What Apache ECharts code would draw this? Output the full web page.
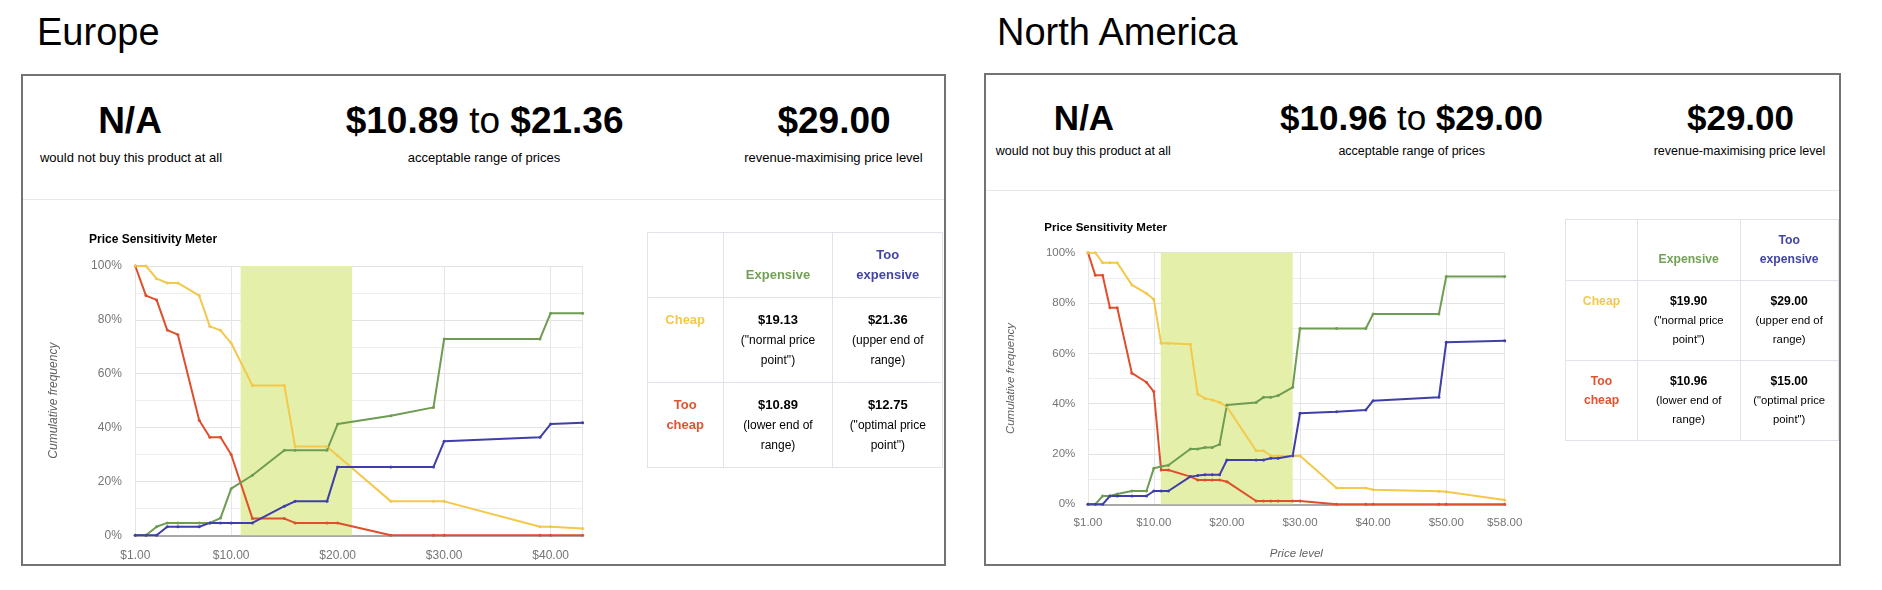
<!DOCTYPE html>
<html>
<head>
  <meta charset="UTF-8">
  <script src="https://cdn.jsdelivr.net/npm/echarts@6/dist/echarts.min.js"></script>
  <style>
    html, body { margin: 0; padding: 0; background: #fff; }
    body { width: 1882px; height: 590px; position: relative; overflow: hidden;
           font-family: "Liberation Sans", Arial, sans-serif; color: #000; }
    #chart { position: absolute; left: 0; top: 0; width: 1882px; height: 590px; }
    .abs { position: absolute; white-space: nowrap; line-height: 1; }
    .box { position: absolute; border: 2px solid #737373; box-sizing: border-box; }
    .sep { position: absolute; height: 1px; background: #e8e8e8; }
    .kpi { position: absolute; transform: translateX(-50%); white-space: nowrap; line-height: 1; text-align: center; }
    .kpi .to { font-weight: normal; }
    table.psm { position: absolute; border-collapse: collapse; table-layout: fixed; text-align: center; }
    table.psm td { border: 1px solid #e2e3ea; vertical-align: top; padding: 0 2px; }
    table.psm tr.head td { vertical-align: bottom; }
    table.psm .lab { font-weight: bold; }
    table.psm .val { font-weight: bold; color: #000; }
    .cheap { color: #f3c84b; }
    .toocheap { color: #e1532f; }
    .exp { color: #72a155; }
    .tooexp { color: #4344a8; }
    #euTable td { padding-top: 12px; padding-bottom: 12px; line-height: 20px; font-size: 12px; }
    #euTable .lab, #euTable .val { font-size: 13px; }
    #naTable td { padding-top: 11px; padding-bottom: 11px; line-height: 19px; font-size: 11.3px; }
    #naTable .lab, #naTable .val { font-size: 12.2px; }
  </style>
</head>
<body>
  <div class="abs" style="left:37px; top:12.8px; font-size:38px;">Europe</div>
  <div class="abs" style="left:997px; top:12.8px; font-size:38px;">North America</div>

  <div class="box" style="left:21px; top:74px; width:925px; height:492px;"></div>
  <div class="box" style="left:984px; top:72.5px; width:857px; height:493px;"></div>
  <div class="sep" style="left:23px; top:199px; width:921px;"></div>
  <div class="sep" style="left:986px; top:190px; width:853px;"></div>

  <!-- Europe figures -->
  <div class="kpi" style="left:130px; top:101.7px; font-size:37px; font-weight:bold;">N/A</div>
  <div class="kpi" style="left:484.6px; top:101.7px; font-size:37px; font-weight:bold;">$10.89<span class="to"> to </span>$21.36</div>
  <div class="kpi" style="left:834px; top:101.7px; font-size:37px; font-weight:bold;">$29.00</div>
  <div class="kpi" style="left:131px; top:151.3px; font-size:13px;">would not buy this product at all</div>
  <div class="kpi" style="left:484px; top:151.3px; font-size:13px;">acceptable range of prices</div>
  <div class="kpi" style="left:833.5px; top:151.3px; font-size:13px;">revenue-maximising price level</div>

  <!-- North America figures -->
  <div class="kpi" style="left:1084px; top:99.7px; font-size:35px; font-weight:bold;">N/A</div>
  <div class="kpi" style="left:1411.5px; top:99.7px; font-size:35px; font-weight:bold;">$10.96<span class="to"> to </span>$29.00</div>
  <div class="kpi" style="left:1740.5px; top:99.7px; font-size:35px; font-weight:bold;">$29.00</div>
  <div class="kpi" style="left:1083.3px; top:144.9px; font-size:12.5px;">would not buy this product at all</div>
  <div class="kpi" style="left:1411.7px; top:144.9px; font-size:12.5px;">acceptable range of prices</div>
  <div class="kpi" style="left:1739.5px; top:144.9px; font-size:12.5px;">revenue-maximising price level</div>

  <div id="chart"></div>

  <table class="psm" id="euTable" style="left:646.7px; top:231.7px; width:295.6px;">
    <col style="width:76px"><col style="width:109.6px"><col style="width:110px">
    <tr class="head">
      <td></td>
      <td><span class="lab exp">Expensive</span></td>
      <td><span class="lab tooexp">Too<br>expensive</span></td>
    </tr>
    <tr>
      <td><span class="lab cheap">Cheap</span></td>
      <td><span class="val">$19.13</span><br>("normal price<br>point")</td>
      <td><span class="val">$21.36</span><br>(upper end of<br>range)</td>
    </tr>
    <tr>
      <td><span class="lab toocheap">Too<br>cheap</span></td>
      <td><span class="val">$10.89</span><br>(lower end of<br>range)</td>
      <td><span class="val">$12.75</span><br>("optimal price<br>point")</td>
    </tr>
  </table>

  <table class="psm" id="naTable" style="left:1565.3px; top:219.3px; width:272.4px;">
    <col style="width:71.4px"><col style="width:103px"><col style="width:98px">
    <tr class="head">
      <td></td>
      <td><span class="lab exp">Expensive</span></td>
      <td><span class="lab tooexp">Too<br>expensive</span></td>
    </tr>
    <tr>
      <td><span class="lab cheap">Cheap</span></td>
      <td><span class="val">$19.90</span><br>("normal price<br>point")</td>
      <td><span class="val">$29.00</span><br>(upper end of<br>range)</td>
    </tr>
    <tr>
      <td><span class="lab toocheap">Too<br>cheap</span></td>
      <td><span class="val">$10.96</span><br>(lower end of<br>range)</td>
      <td><span class="val">$15.00</span><br>("optimal price<br>point")</td>
    </tr>
  </table>

  <script>
    // Europe: price levels and cumulative frequencies (%)
    var euPrices       = [1, 2, 3, 4, 5, 7, 8, 9, 10, 12, 15, 16, 19, 20, 25, 29, 30, 39, 40, 43];
    var euTooCheap     = [100, 89.0, 87.4, 76.2, 74.5, 42.7, 36.4, 36.4, 30.0, 6.2, 6.2, 4.6, 4.6, 4.6, 0, 0, 0, 0, 0, 0];
    var euCheap        = [100, 100, 95.3, 93.7, 93.7, 89.0, 77.6, 76.1, 71.4, 55.6, 55.6, 33.0, 33.0, 29.5, 12.6, 12.6, 12.6, 3.2, 3.2, 2.5];
    var euExpensive    = [0, 0, 3.2, 4.6, 4.6, 4.6, 4.6, 6.4, 17.3, 22.3, 31.6, 31.6, 31.6, 41.3, 44.4, 47.5, 72.9, 72.9, 82.5, 82.5];
    var euTooExpensive = [0, 0, 0, 3.2, 3.2, 3.2, 4.6, 4.6, 4.6, 4.6, 10.8, 12.6, 12.6, 25.4, 25.4, 25.4, 34.9, 36.4, 41.3, 41.8];
    var euRange        = [10.89, 21.36];

    // North America
    var naPrices       = [1, 2, 3, 4, 5, 7, 9, 10, 11, 12, 15, 16, 17, 18, 19, 20, 24, 25, 26, 27, 29, 30, 35, 39, 40, 49, 50, 58];
    var naTooCheap     = [100, 91.0, 91.0, 78.1, 78.1, 52.1, 48.5, 44.8, 13.6, 13.6, 11.0, 9.7, 9.7, 9.7, 9.7, 9.0, 1.3, 1.3, 1.3, 1.3, 1.3, 1.3, 0, 0, 0, 0, 0, 0];
    var naCheap        = [100, 100, 96.0, 96.0, 96.0, 87.2, 83.8, 81.5, 64.0, 64.0, 63.6, 43.8, 42.1, 41.5, 40.5, 38.8, 21.3, 21.3, 19.3, 19.3, 19.2, 19.3, 6.5, 6.5, 5.8, 5.2, 5.0, 1.7];
    var naExpensive    = [0, 0, 3.3, 3.3, 4.1, 5.3, 5.3, 14.3, 15.0, 15.5, 22.0, 22.0, 22.6, 22.6, 23.8, 39.5, 40.5, 42.5, 42.5, 43.2, 46.5, 69.9, 69.9, 69.9, 75.6, 75.6, 90.5, 90.5];
    var naTooExpensive = [0, 0, 0, 3.3, 3.3, 3.3, 3.3, 5.3, 5.3, 5.3, 11.0, 11.4, 11.7, 11.7, 11.7, 17.6, 17.6, 17.6, 18.3, 18.3, 19.3, 36.2, 36.8, 37.5, 41.2, 42.5, 64.4, 65.0];
    var naRange        = [10.96, 29.00];

    var yTicks = [0, 20, 40, 60, 80, 100];

    var colors = { tooCheap: '#df4f2c', cheap: '#f3c84b', expensive: '#6e9c52', tooExpensive: '#3e3fa8' };
    var fontFam = '"Liberation Sans", Arial, sans-serif';

    function pairs(xs, ys) {
      return xs.map(function (x, i) { return [x, ys[i]]; });
    }

    function line(name, color, xs, ys, idx, range) {
      var s = {
        name: name,
        type: 'line',
        xAxisIndex: idx,
        yAxisIndex: idx,
        data: pairs(xs, ys),
        symbol: 'circle',
        symbolSize: 3,
        lineStyle: { color: color, width: 2 },
        itemStyle: { color: color },
        z: 3
      };
      if (range) {
        s.markArea = {
          silent: true,
          z: 1,
          itemStyle: { color: '#e4f0aa' },
          data: [[{ xAxis: range[0] }, { xAxis: range[1] }]]
        };
      }
      return s;
    }

    function xAxis(idx, max, fs, margin, showMax) {
      return {
        gridIndex: idx,
        type: 'value',
        min: 1,
        max: max,
        splitNumber: 5,
        axisLine: { show: true, onZero: false, lineStyle: { color: '#a8a8a8', width: 2 } },
        axisTick: { show: false },
        axisLabel: {
          color: '#757575', fontSize: fs, fontFamily: fontFam, margin: margin,
          showMinLabel: true, showMaxLabel: showMax,
          formatter: function (v) { return '$' + v.toFixed(2); }
        },
        splitLine: { show: true, lineStyle: { color: '#e6e6e6', width: 1 } }
      };
    }

    function yAxis(idx, fs, margin, gap) {
      return {
        gridIndex: idx,
        type: 'value',
        min: yTicks[0],
        max: yTicks[yTicks.length - 1],
        interval: 20,
        name: 'Cumulative frequency',
        nameLocation: 'middle',
        nameRotate: 90,
        nameGap: gap,
        nameTextStyle: { color: '#616161', fontStyle: 'italic', fontSize: fs, fontFamily: fontFam },
        axisLine: { show: false },
        axisTick: { show: false },
        axisLabel: { color: '#757575', fontSize: fs, fontFamily: fontFam, margin: margin, formatter: '{value}%' },
        splitLine: { lineStyle: { color: '#e2e2e2' } },
        minorTick: { show: false, splitNumber: 2 },
        minorSplitLine: { show: true, lineStyle: { color: '#efefef' } }
      };
    }

    var chart = echarts.init(document.getElementById('chart'));

    var naX = xAxis(1, 58, 11.5, 12.5, true);
    naX.name = 'Price level';
    naX.nameLocation = 'middle';
    naX.nameGap = 43;
    naX.nameTextStyle = { color: '#616161', fontStyle: 'italic', fontSize: 11.5, fontFamily: fontFam };

    chart.setOption({
      animation: false,
      textStyle: { fontFamily: fontFam },
      title: [
        { text: 'Price Sensitivity Meter', left: 89, top: 233.5, padding: 0,
          textStyle: { fontSize: 12, fontWeight: 'bold', color: '#000', fontFamily: fontFam } },
        { text: 'Price Sensitivity Meter', left: 1044.3, top: 221.6, padding: 0,
          textStyle: { fontSize: 11.5, fontWeight: 'bold', color: '#000', fontFamily: fontFam } }
      ],
      grid: [
        { left: 135.3, top: 266, width: 447.3, height: 269.3 },
        { left: 1088, top: 252.7, width: 416.7, height: 251.6 }
      ],
      xAxis: [xAxis(0, 43, 12, 14, false), naX],
      yAxis: [yAxis(0, 12, 13.5, 76), yAxis(1, 11.5, 12.7, 71)],
      series: [
        line('Too cheap', colors.tooCheap, euPrices, euTooCheap, 0, euRange),
        line('Cheap', colors.cheap, euPrices, euCheap, 0),
        line('Expensive', colors.expensive, euPrices, euExpensive, 0),
        line('Too expensive', colors.tooExpensive, euPrices, euTooExpensive, 0),
        line('Too cheap', colors.tooCheap, naPrices, naTooCheap, 1, naRange),
        line('Cheap', colors.cheap, naPrices, naCheap, 1),
        line('Expensive', colors.expensive, naPrices, naExpensive, 1),
        line('Too expensive', colors.tooExpensive, naPrices, naTooExpensive, 1)
      ]
    });
  </script>
</body>
</html>
